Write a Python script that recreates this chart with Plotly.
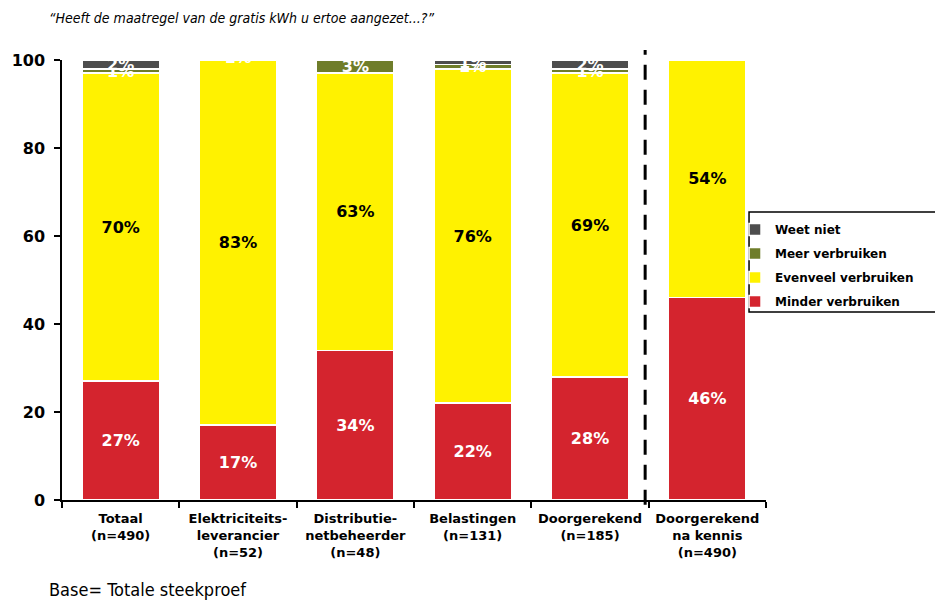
import plotly.graph_objects as go

categories = [
    "Totaal<br>(n=490)",
    "Elektriciteits-<br>leverancier<br>(n=52)",
    "Distributie-<br>netbeheerder<br>(n=48)",
    "Belastingen<br>(n=131)",
    "Doorgerekend<br>(n=185)",
    "Doorgerekend<br>na kennis<br>(n=490)",
]
minder = [27, 17, 34, 22, 28, 46]
evenveel = [70, 83, 63, 76, 69, 54]
meer = [1, 1, 3, 1, 1, 0]
weet_niet = [2, 0, 0, 1, 2, 0]

series = [
    ("Minder verbruiken", minder, "#D4242E", "white"),
    ("Evenveel verbruiken", evenveel, "#FFF200", "black"),
    ("Meer verbruiken", meer, "#6F7D2A", "white"),
    ("Weet niet", weet_niet, "#4D4D4D", "white"),
]

fig = go.Figure()
for i, (name, vals, color, tcolor) in enumerate(series):
    fig.add_trace(go.Bar(
        name=name,
        x=categories,
        y=vals,
        text=[f"{v}%" if v > 0 else "" for v in vals],
        textposition="inside",
        insidetextanchor="middle",
        textangle=0,
        textfont=dict(family="DejaVu Sans", size=16, color=tcolor, weight="bold"),
        marker=dict(color=color, line=dict(color="white", width=1.5)),
        width=0.66,
        legendgroup=f"g{i}",
        legendrank=len(series) - i,
        hoverinfo="skip",
    ))

fig.update_layout(
    width=935,
    height=600,
    barmode="stack",
    paper_bgcolor="white",
    plot_bgcolor="white",
    margin=dict(l=62, r=169, t=60, b=100, autoexpand=False),
    uniformtext=dict(mode="show", minsize=16),
    legend=dict(
        x=0.956, y=0.6477, xanchor="left", yanchor="top",
        borderwidth=0, bgcolor="rgba(0,0,0,0)",
        font=dict(family="DejaVu Sans", size=12, color="black", weight="bold"),
        traceorder="grouped",
        tracegroupgap=5,
    ),
    xaxis=dict(
        type="category",
        range=[-0.5, 5.5],
        showline=True, linecolor="black", linewidth=1.5,
        ticks="outside", tickson="boundaries", ticklen=6, tickcolor="black", tickwidth=1.5,
        ticklabelstandoff=6,
        tickangle=0,
        tickfont=dict(family="DejaVu Sans", size=13, color="black", weight="bold"),
        showgrid=False,
    ),
    yaxis=dict(
        range=[0, 100],
        tickvals=[0, 20, 40, 60, 80, 100],
        showline=True, linecolor="black", linewidth=1.5,
        ticks="outside", ticklen=6, tickcolor="black", tickwidth=1.5,
        ticklabelstandoff=6,
        tickfont=dict(family="DejaVu Sans", size=16, color="black", weight="bold"),
        showgrid=False, zeroline=False,
    ),
    shapes=[
        dict(
            type="line", xref="x", yref="paper",
            x0=4.47, x1=4.47, y0=-0.011, y1=1.0227,
            line=dict(color="black", width=3, dash="15px,10px"),
        ),
        dict(
            type="rect", xref="paper", yref="paper",
            x0=0.9759, x1=1.25, y0=0.4273, y1=0.6545,
            line=dict(color="black", width=1.5), fillcolor="rgba(0,0,0,0)",
        ),
    ],
    annotations=[
        dict(
            text="“Heeft de maatregel van de gratis kWh u ertoe aangezet...?”",
            xref="paper", yref="paper", x=-0.0213, y=1.0955,
            xanchor="left", yanchor="middle", showarrow=False,
            font=dict(family="DejaVu Sans Condensed", size=14, color="black", style="italic"),
        ),
        dict(
            text="Base= Totale steekproef",
            xref="paper", yref="paper", x=-0.0213, y=-0.2045,
            xanchor="left", yanchor="middle", showarrow=False,
            font=dict(family="DejaVu Sans Condensed", size=18, color="black"),
        ),
    ],
)

fig.write_html("out.html", config={"displayModeBar": False},
               post_script="document.body.style.margin='0';")
